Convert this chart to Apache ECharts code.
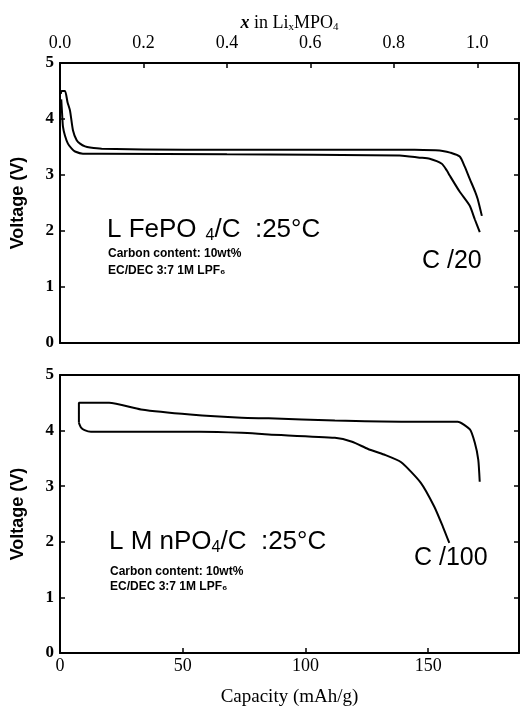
<!DOCTYPE html>
<html>
<head>
<meta charset="utf-8">
<script src="https://cdn.jsdelivr.net/npm/echarts@6/dist/echarts.min.js"></script>
<style>
  html, body { margin: 0; padding: 0; background: #fff; }
  #chart { width: 521px; height: 711px; }
</style>
</head>
<body>
<div id="chart"></div>
<script>
  // LiFePO4/C, C/20, x in LixMPO4 vs voltage
  const fepoChargeX = [0.002, 0.004, 0.012, 0.018, 0.024, 0.031, 0.040, 0.048, 0.060, 0.072, 0.100, 0.300, 0.600, 0.850, 0.900, 0.917, 0.935, 0.958, 0.970, 0.982, 0.995, 1.001, 1.011];
  const fepoChargeV = [4.45, 4.50, 4.50, 4.30, 4.15, 3.80, 3.62, 3.56, 3.51, 3.49, 3.47, 3.45, 3.45, 3.45, 3.44, 3.43, 3.40, 3.33, 3.15, 2.93, 2.70, 2.57, 2.27];
  const fepoDischargeX = [0.003, 0.005, 0.007, 0.012, 0.019, 0.028, 0.036, 0.055, 0.100, 0.400, 0.814, 0.862, 0.886, 0.915, 0.927, 0.934, 0.958, 0.982, 0.994, 1.006];
  const fepoDischargeV = [4.35, 4.10, 3.87, 3.70, 3.56, 3.47, 3.42, 3.38, 3.38, 3.37, 3.35, 3.31, 3.29, 3.20, 3.08, 2.99, 2.70, 2.45, 2.21, 1.98];

  // LiMnPO4/C, C/100, capacity (mAh/g) vs voltage
  const mnpoChargeCap = [7.7, 7.7, 20, 33, 53, 74, 85, 112, 139, 162, 167, 169, 170.4, 171];
  const mnpoChargeV = [4.14, 4.50, 4.50, 4.38, 4.29, 4.23, 4.22, 4.18, 4.16, 4.16, 4.02, 3.78, 3.48, 3.08];
  const mnpoDischargeCap = [7.7, 8.5, 10, 12.6, 57, 74, 85, 112, 119, 125.5, 132, 139, 147, 152.5, 156, 158.6];
  const mnpoDischargeV = [4.14, 4.06, 4.01, 3.98, 3.98, 3.96, 3.93, 3.87, 3.80, 3.67, 3.57, 3.43, 3.06, 2.63, 2.27, 1.98];

  const xTicks = [0, 0.2, 0.4, 0.6, 0.8, 1.0];
  const capTicks = [0, 50, 100, 150];
  const voltTicks = [0, 1, 2, 3, 4, 5];

  function pairs(xs, ys) {
    return xs.map((x, i) => [x, ys[i]]);
  }

  const serif = "'Liberation Serif', 'DejaVu Serif', serif";
  const sans = "'Liberation Sans', Arial, sans-serif";
  const axisLine = { onZero: false, lineStyle: { color: "#000", width: 2 } };
  const tick = { inside: true, length: 5, lineStyle: { color: "#000", width: 1.5 } };

  function frameAxis(extra) {
    return Object.assign({
      type: "value",
      axisLine: axisLine,
      axisTick: { show: false },
      axisLabel: { show: false },
      splitLine: { show: false }
    }, extra);
  }

  function bigLabel(head, spacing) {
    return {
      text: "{a|" + head + "}{s|4}{a|/C  :25°C}",
      rich: {
        a: { fontFamily: sans, fontSize: 26, fill: "#000" },
        s: { fontFamily: sans, fontSize: 16, fill: "#000", padding: [12, 0, 0, spacing] }
      }
    };
  }

  const myChart = echarts.init(document.getElementById("chart"));
  const option = {
    backgroundColor: "#fff",
    animation: false,
    grid: [
      { left: 60, right: 2, top: 63, height: 280, outerBoundsMode: "none" },
      { left: 60, right: 2, top: 375, height: 278, outerBoundsMode: "none" }
    ],
    xAxis: [
      {
        gridIndex: 0,
        type: "value",
        position: "top",
        min: 0,
        max: 1.1,
        interval: 0.2,
        name: "{i|x} in Li{s|x}MPO{s|4}",
        nameLocation: "middle",
        nameGap: 29,
        nameTextStyle: {
          fontFamily: serif,
          fontSize: 18,
          color: "#000",
          rich: {
            i: { fontFamily: serif, fontSize: 18, fontStyle: "italic", fontWeight: "bold", color: "#000" },
            s: { fontFamily: serif, fontSize: 11, color: "#000", padding: [8, 0, 0, 0] }
          }
        },
        axisLine: axisLine,
        axisTick: tick,
        axisLabel: {
          margin: 11,
          showMaxLabel: false,
          fontFamily: serif,
          fontSize: 18,
          color: "#000",
          formatter: v => (xTicks.includes(Math.round(v * 10) / 10) ? v.toFixed(1) : "")
        },
        splitLine: { show: false }
      },
      frameAxis({ gridIndex: 0, position: "bottom", min: 0, max: 1.1 }),
      {
        gridIndex: 1,
        type: "value",
        position: "bottom",
        min: 0,
        max: 187,
        interval: 50,
        name: "Capacity (mAh/g)",
        nameLocation: "middle",
        nameGap: 35,
        nameTextStyle: { fontFamily: serif, fontSize: 19, color: "#000" },
        axisLine: axisLine,
        axisTick: tick,
        axisLabel: {
          margin: 4,
          showMaxLabel: false,
          fontFamily: serif,
          fontSize: 18,
          color: "#000",
          formatter: v => (capTicks.includes(v) ? String(v) : "")
        },
        splitLine: { show: false }
      },
      frameAxis({ gridIndex: 1, position: "top", min: 0, max: 187 })
    ],
    yAxis: [0, 1].map(g => ({
      gridIndex: g,
      type: "value",
      position: "left",
      min: 0,
      max: 5,
      interval: 1,
      name: "Voltage (V)",
      nameLocation: "middle",
      nameGap: 33,
      nameRotate: 90,
      nameTextStyle: { fontFamily: sans, fontSize: 18, fontWeight: "bold", color: "#000" },
      axisLine: axisLine,
      axisTick: tick,
      axisLabel: {
        margin: 6,
        fontFamily: serif,
        fontSize: 17,
        fontWeight: "bold",
        color: "#000",
        formatter: v => (voltTicks.includes(v) ? String(v) : "")
      },
      splitLine: { show: false }
    })).concat([0, 1].map(g => frameAxis({
      gridIndex: g,
      position: "right",
      min: 0,
      max: 5,
      interval: 1,
      axisTick: { inside: true, length: 5, lineStyle: { color: "#000", width: 1.5 } }
    }))).sort((a, b) => a.gridIndex - b.gridIndex),
    series: [
      { data: pairs(fepoChargeX, fepoChargeV), xAxisIndex: 0, yAxisIndex: 0 },
      { data: pairs(fepoDischargeX, fepoDischargeV), xAxisIndex: 0, yAxisIndex: 0 },
      { data: pairs(mnpoChargeCap, mnpoChargeV), xAxisIndex: 2, yAxisIndex: 2 },
      { data: pairs(mnpoDischargeCap, mnpoDischargeV), xAxisIndex: 2, yAxisIndex: 2 }
    ].map(s => Object.assign({
      type: "line",
      showSymbol: false,
      smooth: 0.2,
      lineStyle: { color: "#000", width: 2 }
    }, s)),
    graphic: [
      { type: "text", left: 107, top: 217, style: bigLabel("L FePO", 9) },
      { type: "text", left: 108, top: 248, style: { text: "Carbon content: 10wt%", font: "bold 12px " + sans, fill: "#000" } },
      { type: "text", left: 108, top: 265, style: { text: "EC/DEC 3:7 1M LPF₆", font: "bold 12px " + sans, fill: "#000" } },
      { type: "text", left: 422, top: 249, style: { text: "C /20", font: "25px " + sans, fill: "#000" } },
      { type: "text", left: 109, top: 529, style: bigLabel("L M nPO", 0) },
      { type: "text", left: 110, top: 566, style: { text: "Carbon content: 10wt%", font: "bold 12px " + sans, fill: "#000" } },
      { type: "text", left: 110, top: 581, style: { text: "EC/DEC 3:7 1M LPF₆", font: "bold 12px " + sans, fill: "#000" } },
      { type: "text", left: 414, top: 546, style: { text: "C /100", font: "25px " + sans, fill: "#000" } }
    ]
  };
  // 清除画布
  myChart.clear();
  myChart.setOption(option);
</script>
</body>
</html>
